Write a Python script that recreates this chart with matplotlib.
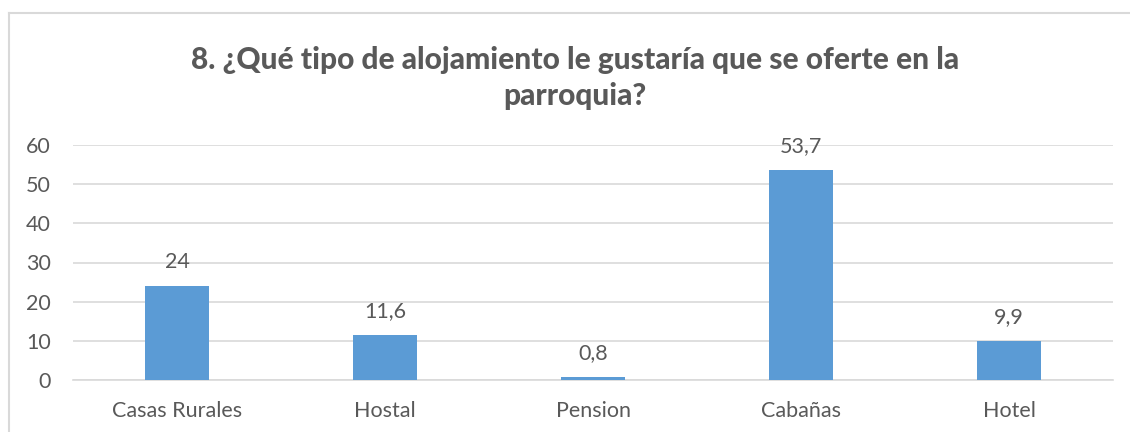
import matplotlib

matplotlib.use("Agg")

import matplotlib.pyplot as plt
from matplotlib.lines import Line2D

categories = ["Casas Rurales", "Hostal", "Pension", "Cabañas", "Hotel"]
values = [24, 11.6, 0.8, 53.7, 9.9]
labels = ["24", "11,6", "0,8", "53,7", "9,9"]
yticks = [0, 10, 20, 30, 40, 50, 60]

TEXT = "#595959"
GRID = "#D9D9D9"
BAR = "#5B9BD5"

plt.rcParams["font.family"] = ["Lato", "DejaVu Sans"]

W, H = 1130, 432
fig = plt.figure(figsize=(W / 100, H / 100), dpi=100)
ax = fig.add_axes([73 / W, 1 - 380 / H, (1113 - 73) / W, (380 - 145) / H])

x = range(len(categories))
ax.bar(x, values, width=0.31, color=BAR, zorder=3)
for xi, v, lab in zip(x, values, labels):
    ax.annotate(lab, (xi, v), xytext=(0, 10), textcoords="offset points",
                ha="center", va="bottom", fontsize=15.5, color=TEXT)

ax.set_xlim(-0.5, len(categories) - 0.5)
ax.set_ylim(0, 60)
ax.set_yticks(yticks)
ax.set_xticks(list(x))
ax.set_xticklabels(categories)
ax.tick_params(axis="both", length=0, labelsize=15.5, labelcolor=TEXT)
ax.tick_params(axis="y", pad=16)
ax.tick_params(axis="x", pad=15)
ax.grid(axis="y", color=GRID, linewidth=1.2, zorder=0)
for side in ("top", "right", "left"):
    ax.spines[side].set_visible(False)
ax.spines["bottom"].set_color(GRID)
ax.spines["bottom"].set_linewidth(1.2)

fig.text(575 / W, 1 - 78 / H,
         "8. ¿Qué tipo de alojamiento le gustaría que se oferte en la\nparroquia?",
         ha="center", va="center", fontsize=21.5, fontweight="black", color=TEXT,
         linespacing=1.35)

# chart frame (top and left edges visible in the crop)
fig.add_artist(Line2D([9 / W, 9 / W], [0, 1 - 13 / H], transform=fig.transFigure,
                      color=GRID, linewidth=1.5))
fig.add_artist(Line2D([9 / W, 1], [1 - 13 / H, 1 - 13 / H], transform=fig.transFigure,
                      color=GRID, linewidth=1.5))

fig.savefig("out.png", dpi=100, facecolor="white")
